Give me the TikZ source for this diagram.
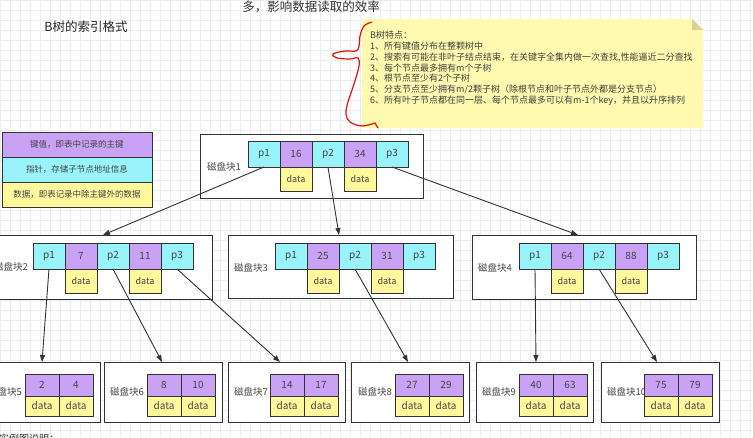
\documentclass[tikz,border=0pt]{standalone}
\usepackage{fontspec}
\setmainfont{Noto Sans CJK SC}
\usetikzlibrary{arrows.meta}
\definecolor{cyanF}{HTML}{99F3FA}
\definecolor{purpleF}{HTML}{C9A2F5}
\definecolor{yellowF}{HTML}{FFF99E}
\definecolor{noteF}{HTML}{FFFAAF}
\definecolor{foldF}{HTML}{D8D29A}
\definecolor{bdr}{HTML}{333333}
\definecolor{txt}{HTML}{444444}
\definecolor{lnk}{HTML}{333333}
\definecolor{gridc}{HTML}{EDEDED}
\definecolor{braceR}{HTML}{E01010}
\tikzset{
  cellbase/.style={draw=bdr, line width=0.9pt, inner sep=0pt, outer sep=0pt, text=txt, anchor=north west},
  pcell/.style={cellbase, fill=cyanF, minimum width=32pt, minimum height=26pt, font=\fontsize{10}{12}\selectfont},
  kcell/.style={cellbase, fill=purpleF, minimum width=32pt, minimum height=26pt, font=\fontsize{10}{12}\selectfont},
  dcell/.style={cellbase, fill=yellowF, minimum width=32pt, minimum height=24pt, font=\fontsize{9}{11}\selectfont},
  lkcell/.style={cellbase, fill=purpleF, minimum width=34pt, minimum height=22pt, font=\fontsize{10}{12}\selectfont},
  ldcell/.style={cellbase, fill=yellowF, minimum width=34pt, minimum height=20pt, font=\fontsize{10}{12}\selectfont},
  blockbox/.style={draw=bdr, line width=0.95pt, fill=white},
  lbl/.style={text=txt, font=\fontsize{9.5}{11}\selectfont, inner sep=0pt},
  legendbox/.style={draw=bdr, line width=1pt, inner sep=0pt, outer sep=0pt, minimum width=150pt, minimum height=25pt, text=txt, font=\fontsize{8.5}{10}\selectfont},
  link/.style={draw=lnk, line width=0.9pt, -{Triangle[length=7pt,width=5pt]}},
}
\newcommand\innode[5]{%
  \node[pcell] (#1p1) at (#2,#3) {p1};
  \node[kcell] (#1k1) at (#1p1.north east) {#4};
  \node[pcell] (#1p2) at (#1k1.north east) {p2};
  \node[kcell] (#1k2) at (#1p2.north east) {#5};
  \node[pcell] (#1p3) at (#1k2.north east) {p3};
  \node[dcell] (#1d1) at (#1k1.south west) {data};
  \node[dcell] (#1d2) at (#1k2.south west) {data};
}
\newcommand\leafnode[5]{%
  \node[lkcell] (#1k1) at (#2,#3) {#4};
  \node[lkcell] (#1k2) at (#1k1.north east) {#5};
  \node[ldcell] (#1d1) at (#1k1.south west) {data};
  \node[ldcell] (#1d2) at (#1k2.south west) {data};
}
\begin{document}
\begin{tikzpicture}[x=1pt,y=-1pt]
\clip (0,0) rectangle (753,437);
\fill[white] (0,0) rectangle (753,437);
\draw[gridc, line width=0.5pt, step=10pt] (0,0) grid (753,437);

% titles
\node[text=black!80, font=\fontsize{12.5}{14}\selectfont, inner sep=0pt] (toptext) at (311,7) {多，影响数据读取的效率};
\node[text=black!85, font=\fontsize{12.5}{14}\selectfont, inner sep=0pt] (title) at (86,27) {B树的索引格式};
\node[text=black!80, font=\fontsize{10}{12}\selectfont, inner sep=0pt, anchor=west] (bottomtext) at (-1,439) {实例图说明：};

% note
\fill[noteF] (362,19) -- (692,19) -- (703,30) -- (703,128) -- (362,128) -- cycle;
\fill[foldF] (692,19) -- (692,30) -- (703,30) -- cycle;
\node[anchor=north west, align=left, inner sep=0pt, text=black!75, font=\fontsize{9}{10.8}\selectfont] (notetext) at (370,31)
{B树特点：\\
1、所有键值分布在整颗树中\\
2、搜索有可能在非叶子结点结束，在关键字全集内做一次查找,性能逼近二分查找\\
3、每个节点最多拥有m个子树\\
4、根节点至少有2个子树\\
5、分支节点至少拥有m/2颗子树（除根节点和叶子节点外都是分支节点）\\
6、所有叶子节点都在同一层、每个节点最多可以有m-1个key，并且以升序排列};

% red brace
\draw[braceR, line width=1.2pt, line cap=round] plot[smooth, tension=0.6] coordinates
{(372,22) (364,26) (360,36) (359,46) (356,51) (345,51) (333,54) (337,58) (350,59) (358,58) (359,66) (354,84) (348,102) (346,114) (350,122) (362,126) (375,123)};
\draw[braceR, line width=1.2pt, line cap=round] (375,123) -- (378,128);

% legend
\node[legendbox, fill=purpleF] (lg1) at (77,144.5) {键值，即表中记录的主键};
\node[legendbox, fill=cyanF] (lg2) at (77,169.5) {指针，存储子节点地址信息};
\node[legendbox, fill=yellowF] (lg3) at (77,194.5) {数据，即表记录中除主键外的数据};

% block boxes
\draw[blockbox] (200,134) rectangle (423,198);
\draw[blockbox] (-10,235) rectangle (212,299);
\draw[blockbox] (228,235) rectangle (453,298);
\draw[blockbox] (472,235) rectangle (696,299);
\draw[blockbox] (-10,362) rectangle (100,422);
\draw[blockbox] (104,362) rectangle (222,422);
\draw[blockbox] (228,362) rectangle (345,422);
\draw[blockbox] (351,362) rectangle (469,422);
\draw[blockbox] (476,362) rectangle (593,422);
\draw[blockbox] (601,362) rectangle (719,422);

% labels
\node[lbl] (L1) at (224,167) {磁盘块1};
\node[lbl, anchor=east] (L2) at (28,267) {磁盘块2};
\node[lbl, anchor=west] (L3) at (234,268) {磁盘块3};
\node[lbl, anchor=west] (L4) at (478,268) {磁盘块4};
\node[lbl, anchor=east] (L5) at (22,392) {磁盘块5};
\node[lbl, anchor=west] (L6) at (110,392) {磁盘块6};
\node[lbl, anchor=west] (L7) at (234,392) {磁盘块7};
\node[lbl, anchor=east] (L8) at (392,392) {磁盘块8};
\node[lbl, anchor=west] (L9) at (482,392) {磁盘块9};
\node[lbl, anchor=west] (L10) at (607,392) {磁盘块10};

% internal nodes
\innode{r}{248}{141}{16}{34}
\innode{a}{33}{243}{7}{11}
\innode{b}{275}{243}{25}{31}
\innode{c}{519}{243}{64}{88}

% leaves
\leafnode{e}{25}{374}{2}{4}
\leafnode{f}{147}{374}{8}{10}
\leafnode{g}{270}{374}{14}{17}
\leafnode{h}{395}{374}{27}{29}
\leafnode{i}{519}{374}{40}{63}
\leafnode{j}{644}{374}{75}{79}

% arrow targets
\coordinate (t2) at (103,235);
\coordinate (t3) at (339,235);
\coordinate (t4) at (578,235);
\coordinate (t5) at (42,362);
\coordinate (t6) at (162,362);
\coordinate (t7) at (280,362);
\coordinate (t8) at (408,362);
\coordinate (t9) at (536,362);
\coordinate (t10) at (657,362);

\draw[link] (rp1.south) -- (t2);
\draw[link] (rp2.south) -- (t3);
\draw[link] (rp3.south) -- (t4);
\draw[link] (ap1.south) -- (t5);
\draw[link] (ap2.south) -- (t6);
\draw[link] (ap3.south) -- (t7);
\draw[link] (bp2.south) -- (t8);
\draw[link] (cp1.south) -- (t9);
\draw[link] (cp2.south) -- (t10);
\end{tikzpicture}
\end{document}
